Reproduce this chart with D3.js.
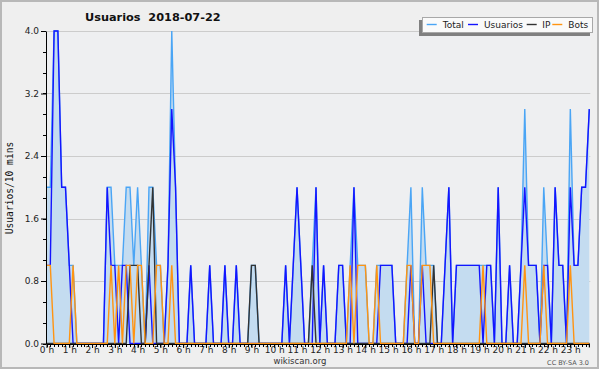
<!DOCTYPE html>
<html><head><meta charset="utf-8">
<script src="https://cdn.jsdelivr.net/npm/d3@7"></script>
<style>body{margin:0;background:#fff}svg{display:block}</style>
</head><body>
<svg id="c" width="600" height="370"></svg>
<script>
// 10-minute slots, 0:00 .. 23:50
const totalSeries = [
  2,2,4,4,2,2,1,1,0,0,0,0,
  0,0,0,0,2,2,1,1,1,2,2,1,
  2,1,0,2,2,1,1,0,1,4,2,0,
  0,0,1,0,0,0,0,1,0,0,0,1,
  0,0,1,0,0,0,1,1,0,0,0,0,
  0,0,0,1,0,1,2,1,0,0,1,2,
  0,1,0,0,0,1,1,0,1,2,1,1,
  1,0,0,1,1,1,1,1,0,0,0,1,
  2,0,0,2,1,1,1,0,0,1,2,0,
  1,1,1,1,1,1,1,1,1,1,0,2,
  0,0,1,0,0,1,3,1,1,1,0,2,
  1,0,2,1,1,0,3,1,1,2,2,3
];
const usuariosSeries = [
  1,1,4,4,2,2,1,0,0,0,0,0,
  0,0,0,0,2,1,1,0,1,1,0,0,
  0,0,0,1,0,0,0,0,1,3,2,0,
  0,0,1,0,0,0,0,1,0,0,0,1,
  0,0,1,0,0,0,0,0,0,0,0,0,
  0,0,0,1,0,1,2,1,0,0,0,2,
  0,1,0,0,0,1,1,0,0,2,0,0,
  0,0,0,0,1,1,1,1,0,0,0,0,
  1,0,0,1,0,0,0,0,0,1,2,0,
  1,1,1,1,1,1,1,0,1,1,0,2,
  0,0,1,0,0,1,2,1,1,1,0,1,
  1,0,2,1,1,0,2,1,1,2,2,3
];
const ipSeries = [
  0,0,0,0,0,0,0,0,0,0,0,0,
  0,0,0,0,0,0,0,0,0,0,1,1,
  1,0,0,1,2,0,0,0,0,0,0,0,
  0,0,0,0,0,0,0,0,0,0,0,0,
  0,0,0,0,0,0,1,1,0,0,0,0,
  0,0,0,0,0,0,0,0,0,0,1,0,
  0,0,0,0,0,0,0,0,0,0,0,0,
  0,0,0,0,0,0,0,0,0,0,0,0,
  0,0,0,0,0,0,1,0,0,0,0,0,
  0,0,0,0,0,0,0,0,0,0,0,0,
  0,0,0,0,0,0,0,0,0,0,0,0,
  0,0,0,0,0,0,0,0,0,0,0,0
];
const botsSeries = [
  1,1,0,0,0,0,0,1,0,0,0,0,
  0,0,0,0,0,1,0,1,0,1,1,0,
  1,1,0,0,0,1,1,0,0,1,0,0,
  0,0,0,0,0,0,0,0,0,0,0,0,
  0,0,0,0,0,0,0,0,0,0,0,0,
  0,0,0,0,0,0,0,0,0,0,0,0,
  0,0,0,0,0,0,0,0,1,0,1,1,
  1,0,0,1,0,0,0,0,0,0,0,1,
  1,0,0,1,1,1,0,0,0,0,0,0,
  0,0,0,0,0,0,0,1,0,0,0,0,
  0,0,0,0,0,0,1,0,0,0,0,1,
  0,0,0,0,0,0,1,0,0,0,0,0
];
const hourLabels = ["0 h","1 h","2 h","3 h","4 h","5 h","6 h","7 h","8 h","9 h","10 h","11 h",
  "12 h","13 h","14 h","15 h","16 h","17 h","18 h","19 h","20 h","21 h","22 h","23 h"];
const yTickValues = [0.0, 0.8, 1.6, 2.4, 3.2, 4.0];
const legendNames = ["Total","Usuarios","IP","Bots"];
const colors = {Total:"#4aa5f5", Usuarios:"#1414ff", IP:"#333333", Bots:"#ff9412"};

const svg = d3.select("#c");
const L = 46.5, R = 589.3, T = 31, B = 343.5;
const x = d3.scaleLinear().domain([0, 143]).range([L, R]);
const y = d3.scaleLinear().domain([0, 4]).range([B, T]);

// background
svg.append("rect").attr("x",1).attr("y",1).attr("width",597).attr("height",367)
  .attr("fill","#efefef").attr("stroke","#b8b8b8").attr("stroke-width",2);
svg.append("rect").attr("x",L).attr("y",T).attr("width",R-L+1).attr("height",B-T)
  .attr("fill","#eeeff1");

// grid
svg.append("g").selectAll("line").data(yTickValues.slice(1)).join("line")
  .attr("x1",L).attr("x2",R+1).attr("y1",d=>Math.round(y(d))+0.5).attr("y2",d=>Math.round(y(d))+0.5)
  .attr("stroke","#cccccc").attr("stroke-width",1);

// title
svg.append("text").attr("x",85).attr("y",21).attr("font-family","DejaVu Sans")
  .attr("font-weight","bold").attr("font-size",11.3).attr("fill","#111")
  .style("white-space","pre").text("Usuarios  2018-07-22");

// series
const idx = d3.range(totalSeries.length);
const area = d3.area().x(i=>x(i)).y0(B).y1(i=>y(totalSeries[i]));
svg.append("path").attr("d",area(idx)).attr("fill","#c4dcf0");
const mk = arr => d3.line().x(i=>x(i)).y(i=>y(arr[i]))(idx);
[["Total",totalSeries],["Usuarios",usuariosSeries],["IP",ipSeries],["Bots",botsSeries]].forEach(([n,arr])=>{
  svg.append("path").attr("d",mk(arr)).attr("fill","none").attr("stroke",colors[n])
    .attr("stroke-width",1.4).attr("stroke-linejoin","miter");
});

// y axis
const yMinor = d3.range(0, 15).map(k=>k*4/15);
const ya = svg.append("g").attr("transform",`translate(${L-0.5},0)`);
ya.call(d3.axisLeft(y).tickValues(yTickValues).tickFormat(d3.format(".1f")).tickSize(5).tickSizeOuter(0));
ya.select(".domain").attr("stroke","#000");
ya.selectAll("text").attr("font-family","DejaVu Sans").attr("font-size",9).attr("fill","#222").attr("dx",1);
svg.append("g").selectAll("line").data(yMinor).join("line")
  .attr("x1",L-3.5).attr("x2",L).attr("y1",d=>Math.round(y(d))+0.5).attr("y2",d=>Math.round(y(d))+0.5)
  .attr("stroke","#000");

// x axis
const xa = svg.append("g").attr("transform",`translate(0,${B+0.5})`);
xa.call(d3.axisBottom(x).tickValues(d3.range(0,144,6)).tickFormat((d,k)=>hourLabels[k]).tickSize(4).tickSizeOuter(0));
xa.select(".domain").attr("stroke","#000");
xa.selectAll("text").attr("font-family","DejaVu Sans").attr("font-size",9).attr("fill","#222")
  .attr("y",2.5).attr("dy","0.71em");
svg.append("g").selectAll("line").data(d3.range(0,144)).join("line")
  .attr("x1",i=>Math.round(x(i))+0.5).attr("x2",i=>Math.round(x(i))+0.5)
  .attr("y1",B+0.5).attr("y2",B+3.5).attr("stroke","#000");
svg.append("line").attr("x1",R).attr("x2",R).attr("y1",B).attr("y2",B+4).attr("stroke","#000");

// y label
svg.append("text").attr("transform","translate(13,188) rotate(-90)").attr("text-anchor","middle")
  .attr("font-family","DejaVu Sans Mono").attr("font-size",9.6).attr("fill","#111").text("Usuarios/10 mins");

// footer
svg.append("text").attr("x",300).attr("y",363.5).attr("text-anchor","middle")
  .attr("font-family","DejaVu Sans").attr("font-size",8.5).attr("fill","#333").text("wikiscan.org");
svg.append("text").attr("x",589).attr("y",365).attr("text-anchor","end")
  .attr("font-family","DejaVu Sans").attr("font-size",6.5).attr("fill","#555").text("CC BY-SA 3.0");

// legend
svg.append("rect").attr("x",419).attr("y",20).attr("width",171).attr("height",16).attr("fill","#808080");
svg.append("rect").attr("x",422.5).attr("y",17.5).attr("width",170).attr("height",15)
  .attr("fill","#fafafa").attr("stroke","#a8a8a8");
const legX = {Total:[426.7,442.7], Usuarios:[468,484], IP:[526.7,542.3], Bots:[552.3,568.3]};
legendNames.forEach(n=>{
  svg.append("line").attr("x1",legX[n][0]).attr("x2",legX[n][0]+10).attr("y1",24.5).attr("y2",24.5)
    .attr("stroke",colors[n]).attr("stroke-width",1.4);
  svg.append("text").attr("x",legX[n][1]).attr("y",28).attr("font-family","DejaVu Sans")
    .attr("font-size",9).attr("fill","#222").text(n);
});
</script>
</body></html>
